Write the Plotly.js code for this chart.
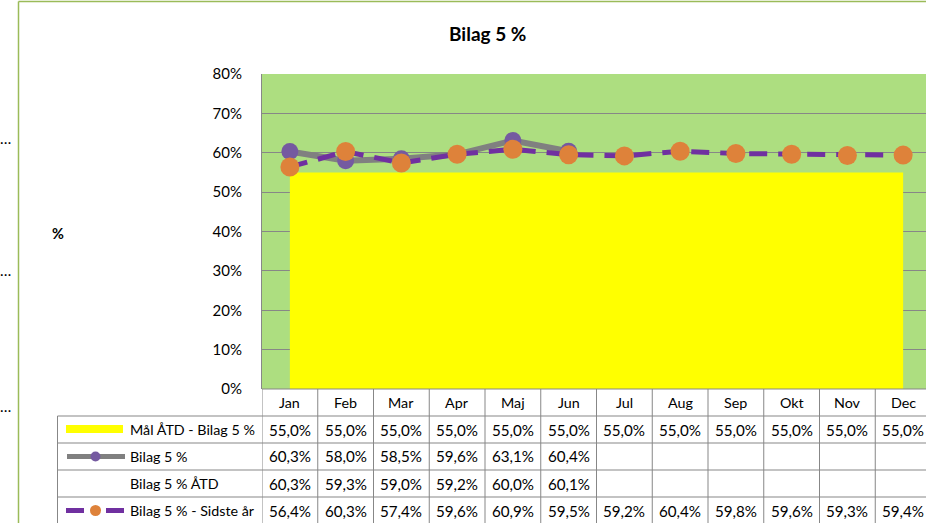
<!DOCTYPE html>
<html>
<head>
<meta charset="utf-8">
<script src="https://cdn.plot.ly/plotly-3.0.1.min.js"></script>
<style>
html,body{margin:0;padding:0;overflow:hidden;background:#fff;width:926px;height:523px;}
#chart{width:940px;height:523px;}
</style>
</head>
<body>
<div id="chart"></div>
<script>
// ---- data ----
var months = ["Jan","Feb","Mar","Apr","Maj","Jun","Jul","Aug","Sep","Okt","Nov","Dec"];
var maalATD = [55.0,55.0,55.0,55.0,55.0,55.0,55.0,55.0,55.0,55.0,55.0,55.0];
var bilag5 = [60.3,58.0,58.5,59.6,63.1,60.4,null,null,null,null,null,null];
var bilag5ATD = [60.3,59.3,59.0,59.2,60.0,60.1,null,null,null,null,null,null];
var sidsteAar = [56.4,60.3,57.4,59.6,60.9,59.5,59.2,60.4,59.8,59.6,59.3,59.4];
var seriesNames = ["Mål ÅTD - Bilag 5 %","Bilag 5 %","Bilag 5 % ÅTD","Bilag 5 % - Sidste år"];
var yTicks = [0,10,20,30,40,50,60,70,80];
var chartTitle = "Bilag 5 %";
var yTitle = "%";

// ---- layout geometry (pixels) ----
var W = 940, H = 523;
var PL = 262, PR = 931, PT = 74, PB = 389;
var FONT = "Lato, 'Open Sans', sans-serif";
var GREEN_BG = "rgb(173,222,128)";
var GRID = "#878787";
var TXT = "#000";
var NUM_SIZE = 15.2, LBL_SIZE = 14.3;

function px(x){ return (x - PL) / (PR - PL); }
function py(y){ return (PB - y) / (PB - PT); }
function fmt(v){ return v.toFixed(1).replace('.', ',') + '%'; }

var traces = [
  {x: months, y: maalATD, type: 'scatter', mode: 'none', fill: 'tozeroy',
   fillcolor: '#FFFF00', name: seriesNames[0], hoverinfo: 'skip'},
  {x: months, y: bilag5, type: 'scatter', mode: 'lines+markers', name: seriesNames[1],
   line: {color: '#808080', width: 6}, marker: {color: 'rgb(117,90,160)', size: 17},
   connectgaps: false},
  {x: months, y: bilag5ATD, type: 'scatter', mode: 'none', name: seriesNames[2], hoverinfo: 'skip'},
  {x: months, y: sidsteAar, type: 'scatter', mode: 'lines+markers', name: seriesNames[3],
   line: {color: '#7030A0', width: 5, dash: '18px,11px'},
   marker: {color: 'rgb(222,130,58)', size: 19}}
];

var shapes = [];
var annotations = [];
var lineStyle = {color: GRID, width: 1};

// outer chart border (green)
shapes.push({type:'line', xref:'paper', yref:'paper', x0: px(18.5), x1: px(18.5), y0: py(1.5), y1: py(530), line:{color:'#9BBB59', width:1.5}});
shapes.push({type:'line', xref:'paper', yref:'paper', x0: px(18.5), x1: px(945), y0: py(1.5), y1: py(1.5), line:{color:'#9BBB59', width:1.5}});

// data table grid
var rowTops = [389, 416, 443, 470, 497, 530];
shapes.push({type:'line', xref:'paper', yref:'paper', x0: px(PL), x1: px(945), y0: py(389), y1: py(389), line: lineStyle});
for (var r = 1; r < 5; r++) {
  shapes.push({type:'line', xref:'paper', yref:'paper', x0: px(57.5), x1: px(945), y0: py(rowTops[r]), y1: py(rowTops[r]), line: lineStyle});
}
shapes.push({type:'line', xref:'paper', yref:'paper', x0: px(57.5), x1: px(57.5), y0: py(416), y1: py(530), line: lineStyle});
for (var i = 0; i <= months.length; i++) {
  shapes.push({type:'line', xref:'x', yref:'paper', x0: i - 0.5, x1: i - 0.5, y0: py(389), y1: py(530), line: lineStyle});
}

// month headers
months.forEach(function(m, i){
  annotations.push({xref:'x', yref:'paper', x: i, y: py(402.5), text: m, showarrow:false,
    xanchor:'center', yanchor:'middle', font:{family:FONT, size:LBL_SIZE, color:TXT}});
});

// table rows
var rowData = [maalATD, bilag5, bilag5ATD, sidsteAar];
var rowCenters = [429.5, 456.5, 483.5, 510.5];
rowData.forEach(function(arr, r){
  arr.forEach(function(v, i){
    if (v === null) return;
    annotations.push({xref:'x', yref:'paper', x: i, y: py(rowCenters[r]), text: fmt(v), showarrow:false,
      xanchor:'center', yanchor:'middle', font:{family:FONT, size:NUM_SIZE, color:TXT}});
  });
  annotations.push({xref:'paper', yref:'paper', x: px(128), y: py(rowCenters[r]), text: seriesNames[r], showarrow:false,
    xanchor:'left', yanchor:'middle', font:{family:FONT, size:LBL_SIZE, color:TXT}});
});

// legend keys in table
shapes.push({type:'rect', xref:'paper', yref:'paper', x0: px(66), x1: px(123), y0: py(425), y1: py(433), fillcolor:'#FFFF00', line:{width:0}});
shapes.push({type:'line', xref:'paper', yref:'paper', x0: px(67), x1: px(125), y0: py(456.5), y1: py(456.5), line:{color:'#808080', width:5}});
shapes.push({type:'circle', xref:'paper', yref:'paper', x0: px(90.5), x1: px(100.5), y0: py(451.5), y1: py(461.5), fillcolor:'rgb(117,90,160)', line:{width:0}});
shapes.push({type:'line', xref:'paper', yref:'paper', x0: px(66), x1: px(84), y0: py(510.5), y1: py(510.5), line:{color:'#7030A0', width:5}});
shapes.push({type:'line', xref:'paper', yref:'paper', x0: px(106), x1: px(124), y0: py(510.5), y1: py(510.5), line:{color:'#7030A0', width:5}});
shapes.push({type:'circle', xref:'paper', yref:'paper', x0: px(90), x1: px(101), y0: py(505), y1: py(516), fillcolor:'rgb(222,130,58)', line:{width:0}});

// y-axis title
annotations.push({xref:'paper', yref:'paper', x: px(57.5), y: py(233), text: '<b>' + yTitle + '</b>', showarrow:false,
  xanchor:'center', yanchor:'middle', font:{family:FONT, size:14.5, color:TXT}});
// chart title
annotations.push({xref:'paper', yref:'paper', x: px(487.5), y: py(33), text: '<b>' + chartTitle + '</b>', showarrow:false,
  xanchor:'center', yanchor:'middle', font:{family:FONT, size:19, color:TXT}});
// truncated neighbouring labels at far left
[138, 270, 406].forEach(function(yy){
  annotations.push({xref:'paper', yref:'paper', x: px(-2), y: py(yy), text: '…', showarrow:false,
    xanchor:'left', yanchor:'middle', font:{family:FONT, size:15, color:TXT}});
});

var layout = {
  width: W, height: H,
  margin: {l: PL, r: W - PR, t: PT, b: H - PB},
  paper_bgcolor: '#fff',
  plot_bgcolor: GREEN_BG,
  showlegend: false,
  xaxis: {type: 'category', range: [-0.5, 11.5], showticklabels: false, showgrid: false,
          zeroline: false, showline: false, ticks: '', fixedrange: true},
  yaxis: {range: [0, 80], tickvals: yTicks, ticktext: yTicks.map(function(v){return v + '%';}),
          showgrid: true, gridcolor: GRID, gridwidth: 1, zeroline: false,
          showline: true, linecolor: GRID, linewidth: 1, ticks: '', ticklabelstandoff: 16,
          tickfont: {family: FONT, size: 15, color: TXT}, fixedrange: true},
  shapes: shapes,
  annotations: annotations,
  hovermode: false
};

Plotly.newPlot('chart', traces, layout, {displayModeBar: false, staticPlot: true});
</script>
</body>
</html>
